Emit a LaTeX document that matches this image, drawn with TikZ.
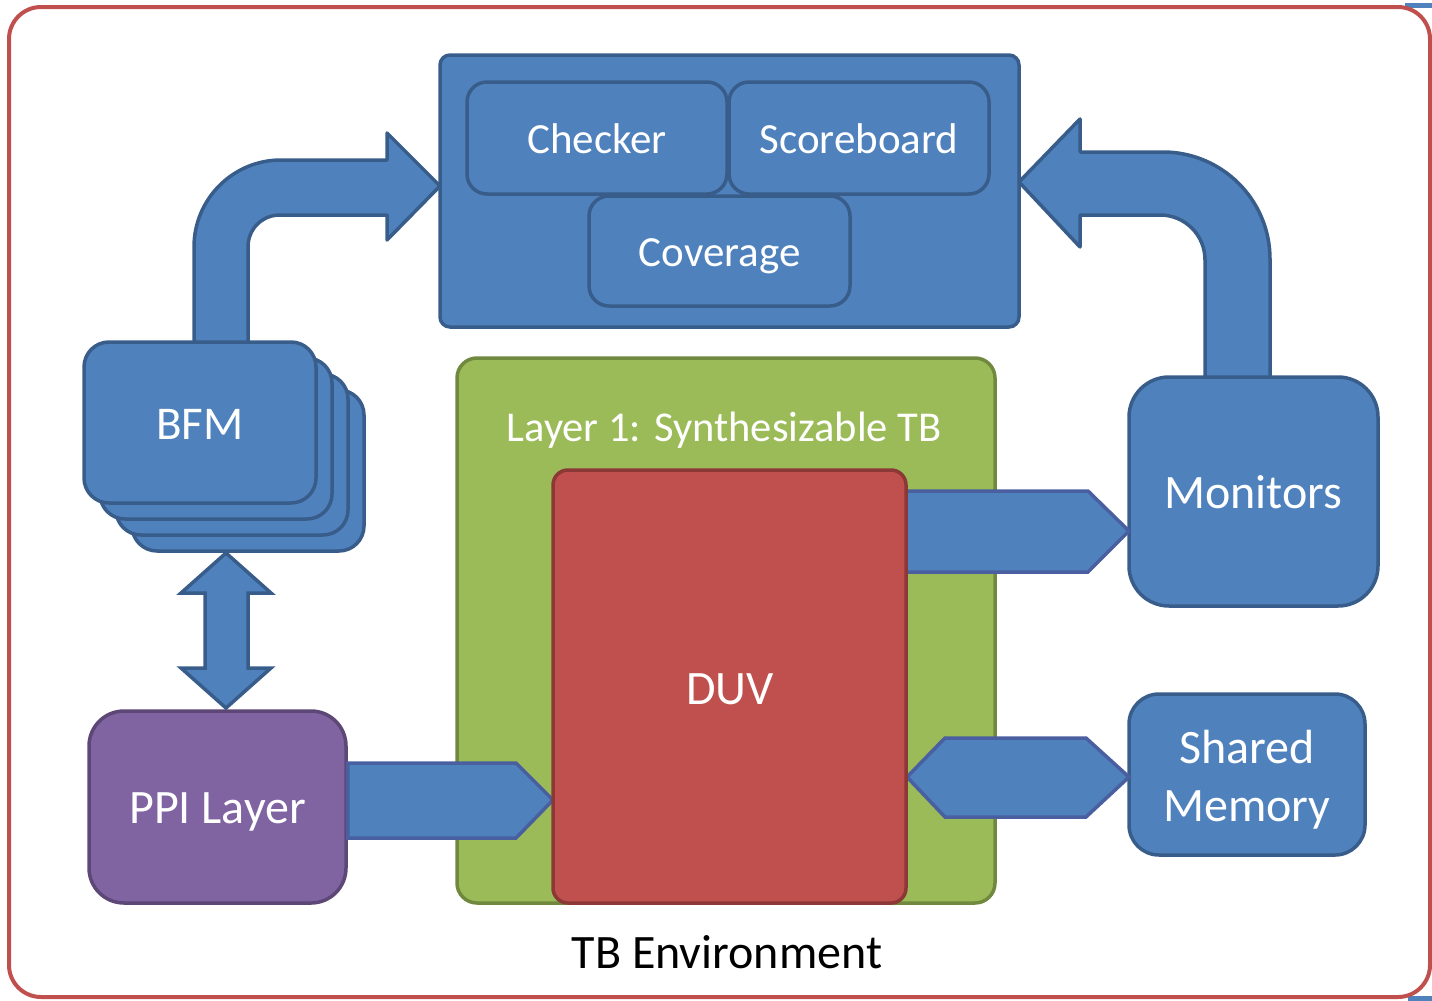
\documentclass[tikz,border=0pt]{standalone}
\usepackage{fontspec}
\setmainfont{Carlito}
\usetikzlibrary{calc}
\definecolor{bfill}{HTML}{4F81BD}
\definecolor{bdark}{HTML}{385D8A}
\definecolor{aline}{HTML}{4A5FA0}
\definecolor{rfill}{HTML}{C0504D}
\definecolor{rdark}{HTML}{8C3836}
\definecolor{gfill}{HTML}{9BBB59}
\definecolor{gdark}{HTML}{71893F}
\definecolor{pfill}{HTML}{8064A2}
\definecolor{pdark}{HTML}{5C4776}
\begin{document}
\begin{tikzpicture}[x=1pt,y=-1pt,
  box/.style={draw=bdark,fill=bfill,line width=3.5pt,text=white,inner sep=0pt,outer sep=0pt},
  barrow/.style={draw=bdark,fill=bfill,line width=3.5pt,line join=round},
  sarrow/.style={draw=aline,fill=bfill,line width=3.5pt,line join=miter},
  ftA/.style={font=\fontsize{43}{51}\selectfont,text height=30pt,text depth=0pt},
  ftB/.style={font=\fontsize{48}{58}\selectfont,text height=33.6pt,text depth=0pt},
  ftBFM/.style={font=\fontsize{47}{56}\selectfont,text height=33pt,text depth=0pt},
  ftC/.style={font=\fontsize{42.5}{50}\selectfont,text height=29.75pt,text depth=0pt},
]
\useasboundingbox (0,0) rectangle (1432,1001);
\fill[bfill] (1405,3) rectangle (1432,8);
\fill[bfill] (1408,996) rectangle (1432,1001);
\draw[draw=rfill,line width=4pt,rounded corners=32pt] (9,7) rectangle (1430,997);

% top analysis box
\node[box,rounded corners=10pt,minimum width=579pt,minimum height=272pt] (top) at (729.5,191) {};
\node[box,rounded corners=20pt,minimum width=260pt,minimum height=112pt,ftA] (chk) at (597,138) {Checker};
\node[box,rounded corners=20pt,minimum width=260pt,minimum height=112pt,ftA] (sb) at (859,138) {Scoreboard};
\node[box,rounded corners=20pt,minimum width=261pt,minimum height=110pt,ftA] (cov) at (719.5,251) {Coverage};

% green layer
\node[draw=gdark,fill=gfill,line width=3.5pt,rounded corners=20pt,minimum width=538pt,minimum height=545pt,inner sep=0pt] (grn) at (726,630.5) {};
\node[text=white,ftC] (lbl) at (724,427) {Layer 1: Synthesizable TB};

% BFM stack
\node[box,rounded corners=25pt,minimum width=232pt,minimum height=161pt] (b3) at (248,470.5) {};
\node[box,rounded corners=25pt,minimum width=232pt,minimum height=161pt] (b2) at (232,454.5) {};
\node[box,rounded corners=25pt,minimum width=232pt,minimum height=161pt] (b1) at (216,438.5) {};

% curved arrows
\draw[barrow] (194,344) -- (194,247) .. controls (194,199) and (233,160) .. (281,160)
  -- (387,160) -- (387,133) -- (top.west |- 0,186) -- (387,240) -- (387,215) -- (280,215)
  .. controls (262,215) and (248,229) .. (248,247) -- (248,344) -- cycle;
\draw[barrow] (1205,379) -- (1205,260) .. controls (1205,235) and (1185,215) .. (1160,215)
  -- (1080,215) -- (1080,247) -- (top.east |- 0,182) -- (1080,119) -- (1080,152) -- (1163,152)
  .. controls (1222,152) and (1270,200) .. (1270,259) -- (1270,379) -- cycle;

\node[box,rounded corners=25pt,minimum width=232pt,minimum height=161pt,ftBFM] (bfm) at (200,422.5) {BFM};

% vertical double arrow
\draw[barrow,line join=miter] (226,553) -- (271,593) -- (248,593) -- (248,668) -- (271,668) -- (226,708)
  -- (181,668) -- (205,668) -- (205,593) -- (181,593) -- cycle;

\node[box,rounded corners=40pt,minimum width=249pt,minimum height=229pt,ftB] (mon) at (1253.5,491.5) {Monitors};
\node[box,rounded corners=30pt,minimum width=236pt,minimum height=161pt] (shm) at (1247,774.5) {};
\node[text=white,font=\fontsize{48}{58}\selectfont,align=center] (shmt) at (1247,779.5) {Shared\\Memory};
\node[draw=pdark,fill=pfill,line width=3.5pt,rounded corners=35pt,minimum width=257pt,minimum height=192pt,inner sep=0pt,text=white,ftB] (ppi) at (217.5,807) {PPI Layer};

% straight block arrows
\draw[sarrow] (900,491) -- (1088,491) -- (mon.west |- 0,531) -- (1088,572) -- (900,572) -- cycle;
\draw[sarrow] (ppi.east |- 0,763) -- (516,763) -- (553,800) -- (516,838) -- (ppi.east |- 0,838) -- cycle;
\draw[sarrow] (907,777) -- (945,738) -- (1086,738) -- (shm.west |- 0,777) -- (1086,817) -- (945,817) -- cycle;

\node[draw=rdark,fill=rfill,line width=3.5pt,rounded corners=15pt,minimum width=353pt,minimum height=433pt,inner sep=0pt] (duv) at (729.5,686.5) {};
\node[text=white,ftB] (duvt) at (730,688) {DUV};

\node[ftB] (env) at (727,952) {TB Environment};
\end{tikzpicture}
\end{document}
